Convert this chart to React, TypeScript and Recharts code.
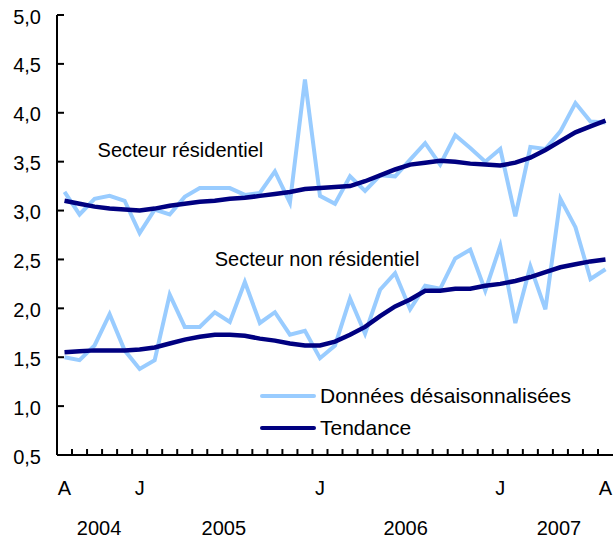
import { LineChart, Line, XAxis, YAxis, ReferenceDot, Legend } from 'recharts';

const months = [
  '2004-08', '2004-09', '2004-10', '2004-11', '2004-12',
  '2005-01', '2005-02', '2005-03', '2005-04', '2005-05', '2005-06',
  '2005-07', '2005-08', '2005-09', '2005-10', '2005-11', '2005-12',
  '2006-01', '2006-02', '2006-03', '2006-04', '2006-05', '2006-06',
  '2006-07', '2006-08', '2006-09', '2006-10', '2006-11', '2006-12',
  '2007-01', '2007-02', '2007-03', '2007-04', '2007-05', '2007-06',
  '2007-07', '2007-08',
];

// Secteur résidentiel
const resSa = [
  3.19, 2.96, 3.12, 3.15, 3.10, 2.77, 3.01, 2.96, 3.14, 3.23, 3.23, 3.23,
  3.16, 3.18, 3.40, 3.08, 4.34, 3.15, 3.07, 3.35, 3.20, 3.36, 3.35, 3.52,
  3.69, 3.47, 3.77, 3.64, 3.50, 3.63, 2.94, 3.65, 3.63, 3.81, 4.10, 3.91, 3.90,
];
const resTrend = [
  3.10, 3.07, 3.04, 3.02, 3.01, 3.00, 3.02, 3.05, 3.07, 3.09, 3.10, 3.12,
  3.13, 3.15, 3.17, 3.19, 3.22, 3.23, 3.24, 3.25, 3.30, 3.36, 3.42, 3.47,
  3.49, 3.51, 3.50, 3.48, 3.47, 3.46, 3.49, 3.54, 3.62, 3.71, 3.80, 3.86, 3.92,
];

// Secteur non résidentiel
const nonSa = [
  1.50, 1.47, 1.62, 1.94, 1.57, 1.38, 1.47, 2.14, 1.81, 1.81, 1.96, 1.86,
  2.27, 1.85, 1.96, 1.73, 1.77, 1.49, 1.62, 2.10, 1.74, 2.19, 2.36, 1.99,
  2.23, 2.20, 2.51, 2.60, 2.18, 2.64, 1.85, 2.43, 1.99, 3.12, 2.83, 2.30, 2.40,
];
const nonTrend = [
  1.55, 1.56, 1.57, 1.57, 1.57, 1.58, 1.60, 1.64, 1.68, 1.71, 1.73, 1.73,
  1.72, 1.69, 1.67, 1.64, 1.62, 1.62, 1.66, 1.73, 1.81, 1.92, 2.02, 2.09,
  2.18, 2.18, 2.20, 2.20, 2.23, 2.25, 2.28, 2.32, 2.37, 2.42, 2.45, 2.48, 2.50,
];

const yTicks = [0.5, 1, 1.5, 2, 2.5, 3, 3.5, 4, 4.5, 5];
const monthTickIdx = [0, 5, 17, 29, 36];
const monthTickLabels = ['A', 'J', 'J', 'J', 'A'];
const yearTickIdx = [2.3, 10.6, 22.7, 32.9];
const yearLabels = ['2004', '2005', '2006', '2007'];
const legendLabels = ['Données désaisonnalisées', 'Tendance'];

const LIGHT = '#99ccff';
const DARK = '#000080';
const FONT = '"Liberation Sans", Arial, Helvetica, sans-serif';
const PLOT_LEFT = 57;
const PLOT_BOTTOM = 455;

const data = months.map((m, i) => ({
  idx: i,
  month: m,
  resSa: resSa[i],
  resTrend: resTrend[i],
  nonSa: nonSa[i],
  nonTrend: nonTrend[i],
}));

// mark ticks sit between months
const boundaries = months.slice(1).map((_, i) => i + 0.5);
const xTicks = [...boundaries, ...monthTickIdx, ...yearTickIdx];

const XTick = (props: any) => {
  const { x, payload } = props;
  const v = payload.value;
  const mi = monthTickIdx.indexOf(v);
  if (mi >= 0) {
    return (
      <text x={x} y={495} textAnchor="middle" fontSize={20} fontFamily={FONT} fill="#000">
        {monthTickLabels[mi]}
      </text>
    );
  }
  const yi = yearTickIdx.indexOf(v);
  if (yi >= 0) {
    return (
      <text x={x} y={535} textAnchor="middle" fontSize={20} fontFamily={FONT} fill="#000">
        {yearLabels[yi]}
      </text>
    );
  }
  return <line x1={x} x2={x} y1={PLOT_BOTTOM} y2={PLOT_BOTTOM - 6} stroke="#000" strokeWidth={2} />;
};

const YTick = (props: any) => {
  const { y, payload } = props;
  return (
    <g>
      <line x1={PLOT_LEFT} x2={PLOT_LEFT + 7} y1={y} y2={y} stroke="#000" strokeWidth={2} />
      <text x={41} y={y} dy="0.43em" textAnchor="end" fontSize={20} fontFamily={FONT} fill="#000">
        {payload.value.toFixed(1).replace('.', ',')}
      </text>
    </g>
  );
};

const note = (text: string) => (p: any) => (
  <text x={p.viewBox.x} y={p.viewBox.y} fontSize={20} fontFamily={FONT} fill="#000">
    {text}
  </text>
);

const LegendBox = () => (
  <div style={{ fontFamily: FONT, fontSize: 21, color: '#000' }}>
    {legendLabels.map((label, i) => (
      <div key={label} style={{ display: 'flex', alignItems: 'center', height: 32 }}>
        <div
          style={{
            width: 56,
            height: 4,
            borderRadius: 2,
            background: i === 0 ? LIGHT : DARK,
            marginRight: 4,
          }}
        />
        <span>{label}</span>
      </div>
    ))}
  </div>
);

export default function App() {
  return (
    <div style={{ position: 'absolute', left: 0, top: 0, width: 616, height: 540, background: '#fff' }}>
      <LineChart width={616} height={540} data={data} margin={{ top: 15, right: 3, bottom: 0, left: 0 }}>
        <XAxis
          dataKey="idx"
          type="number"
          domain={[-0.5, 36.5]}
          ticks={xTicks}
          interval={0}
          tick={XTick}
          tickLine={false}
          axisLine={{ stroke: '#000', strokeWidth: 2 }}
          height={85}
        />
        <XAxis
          xAxisId="top"
          orientation="top"
          dataKey="idx"
          type="number"
          domain={[-0.5, 36.5]}
          tick={false}
          tickLine={false}
          axisLine={{ stroke: '#000', strokeWidth: 2 }}
          height={0}
        />
        <YAxis
          type="number"
          domain={[0.5, 5]}
          ticks={yTicks}
          interval={0}
          tick={YTick}
          tickLine={false}
          axisLine={{ stroke: '#000', strokeWidth: 2 }}
          width={PLOT_LEFT}
        />
        <YAxis
          yAxisId="right"
          orientation="right"
          type="number"
          domain={[0.5, 5]}
          tick={false}
          tickLine={false}
          axisLine={{ stroke: '#000', strokeWidth: 2 }}
          width={0}
        />
        <Line type="linear" dataKey="resSa" stroke={LIGHT} strokeWidth={4} dot={false} isAnimationActive={false} />
        <Line type="linear" dataKey="nonSa" stroke={LIGHT} strokeWidth={4} dot={false} isAnimationActive={false} />
        <Line type="linear" dataKey="resTrend" stroke={DARK} strokeWidth={4.5} dot={false} isAnimationActive={false} />
        <Line type="linear" dataKey="nonTrend" stroke={DARK} strokeWidth={4.5} dot={false} isAnimationActive={false} />
        <ReferenceDot x={2.2} y={3.55} r={0} fill="none" stroke="none" ifOverflow="visible" label={note('Secteur résidentiel')} />
        <ReferenceDot x={10} y={2.433} r={0} fill="none" stroke="none" ifOverflow="visible" label={note('Secteur non résidentiel')} />
        <Legend
          layout="vertical"
          align="center"
          verticalAlign="middle"
          content={LegendBox}
          wrapperStyle={{ position: 'absolute', left: 260, top: 380, width: 340 }}
        />
      </LineChart>
    </div>
  );
}
